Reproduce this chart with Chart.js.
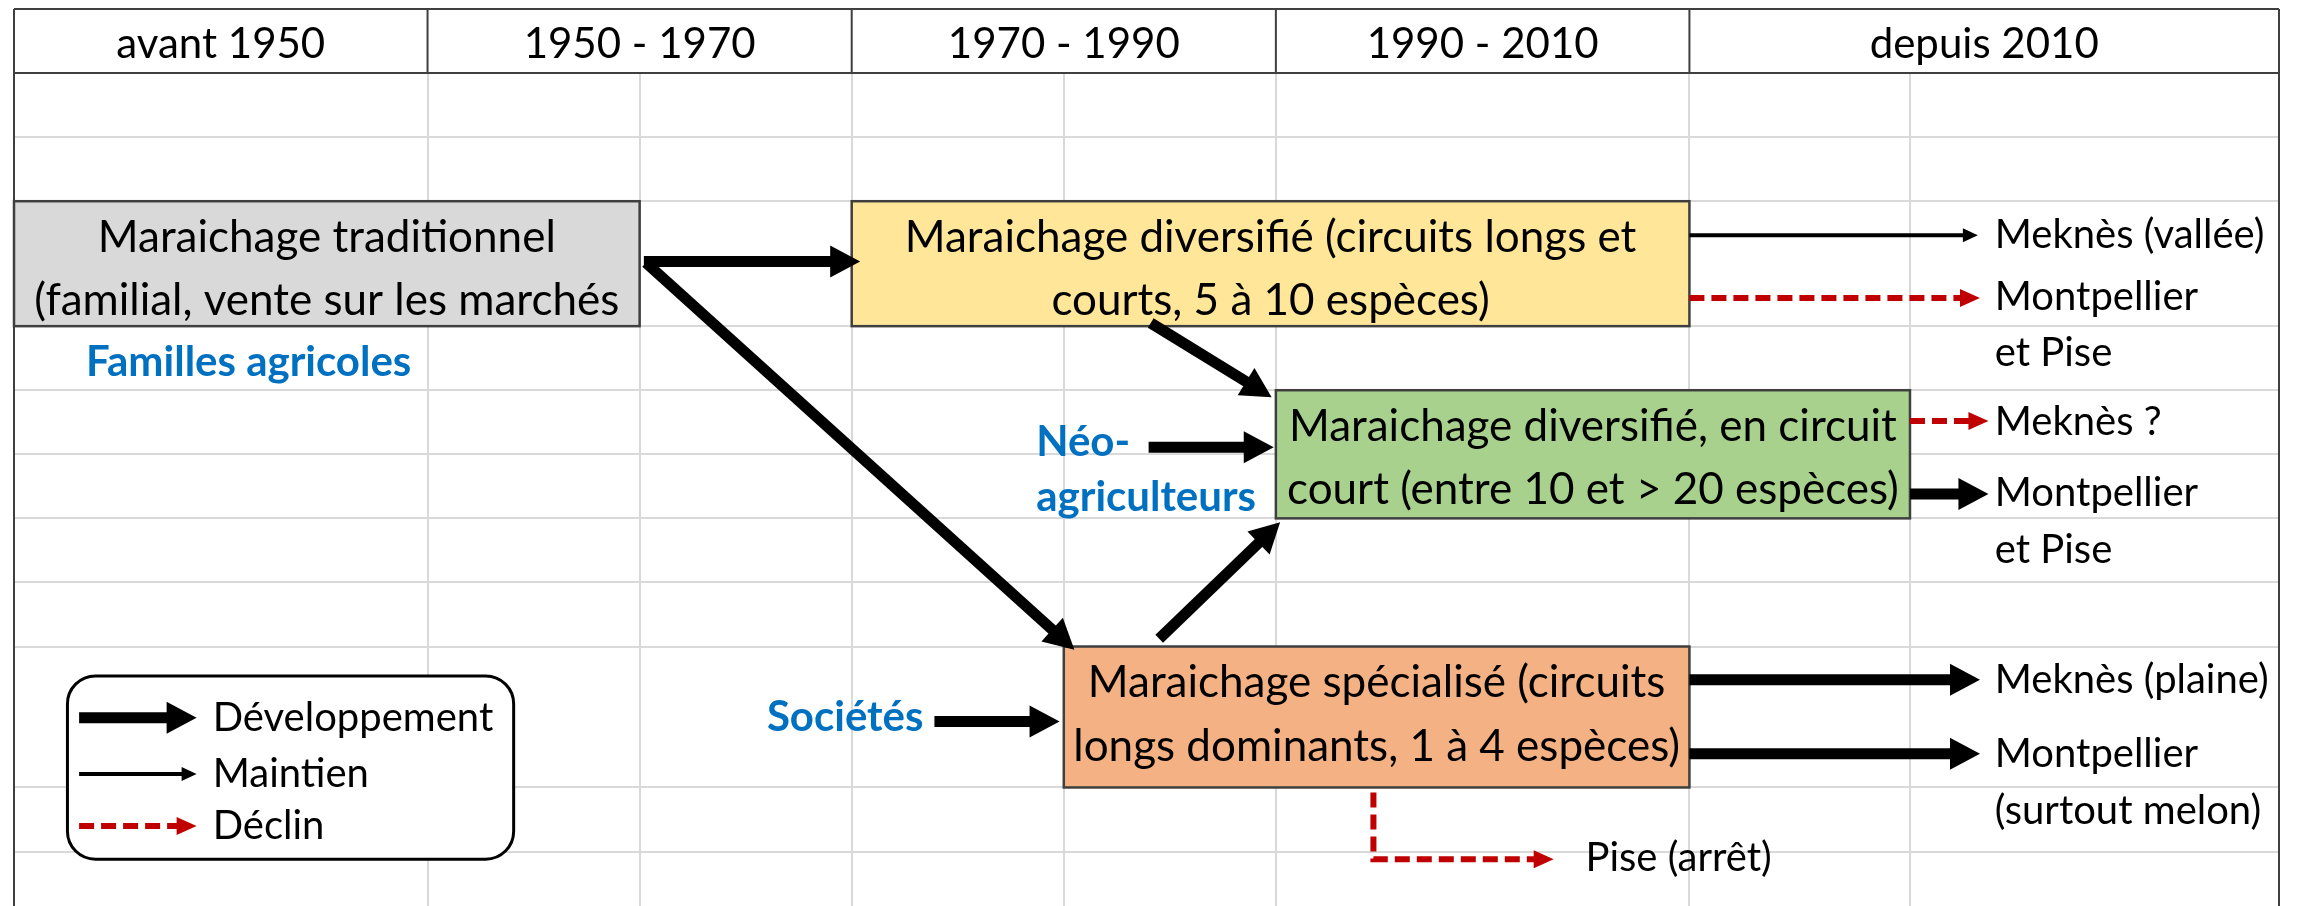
<!DOCTYPE html>
<html lang="fr">
<head>
<meta charset="utf-8">
<title>Trajectoires du maraichage</title>
<script src="https://cdn.jsdelivr.net/npm/chart.js@4.4.1/dist/chart.umd.min.js"></script>
<style>
  html, body { margin: 0; padding: 0; background: #fff; }
  #wrap { position: relative; width: 2303px; height: 906px; }
</style>
</head>
<body>
<div id="wrap"><canvas id="diagram"></canvas></div>
<script>
// header periods and the spreadsheet grid, in column / row units
const periods = ['avant 1950', '1950 - 1970', '1970 - 1990', '1990 - 2010', 'depuis 2010'];
const periodEdges = [0, 1.95, 3.95, 5.95, 7.9, 10.68];
const colEdges = [0, 1.95, 2.95, 3.95, 4.95, 5.95, 7.9, 8.94, 10.68];
const rowEdges = [0, 1, 2, 3, 4.95, 5.95, 6.95, 7.95, 8.95, 9.95, 12.15, 13.15];

// farming systems (boxes)
const systemText = [
    ['Maraichage traditionnel', '(familial, vente sur les marchés'],
    ['Maraichage diversifié (circuits longs et', 'courts, 5 à 10 espèces)'],
    ['Maraichage diversifié, en circuit', 'court (entre 10 et > 20 espèces)'],
    ['Maraichage spécialisé (circuits', 'longs dominants, 1 à 4 espèces)']
];
const systemFrom = [0, 3.95, 5.95, 4.95];
const systemTo = [2.95, 7.9, 8.94, 7.9];
const systemTop = [3, 3, 5.95, 9.95];
const systemBottom = [4.95, 4.95, 7.95, 12.15];
const systemColors = ['#d9d9d9', '#ffe699', '#a9d18e', '#f4b183'];

// flows: kind and path points [x, y]
const flowKind = ['dev', 'dev', 'dev', 'dev', 'dev', 'dev', 'main', 'decl', 'decl', 'dev', 'dev', 'dev', 'decl'];
const flowPath = [
    [[2.97, 3.94], [3.99, 3.94]],
    [[2.98, 3.96], [5.0, 10.0]],
    [[5.36, 4.9], [5.93, 6.06]],
    [[5.35, 6.84], [5.94, 6.84]],
    [[5.4, 9.83], [5.97, 8.01]],
    [[4.34, 11.12], [4.93, 11.12]],
    [[7.9, 3.53], [9.26, 3.53]],
    [[7.9, 4.51], [9.27, 4.51]],
    [[8.94, 6.43], [9.31, 6.43]],
    [[8.94, 7.57], [9.31, 7.57]],
    [[7.9, 10.47], [9.27, 10.47]],
    [[7.9, 11.625], [9.27, 11.625]],
    [[6.41, 12.23], [6.41, 13.27], [7.26, 13.27]]
];

// places reached
const placeText = ['Meknès (vallée)', 'Montpellier', 'et Pise', 'Meknès ?', 'Montpellier', 'et Pise',
    'Meknès (plaine)', 'Montpellier', '(surtout melon)', 'Pise (arrêt)'];
const placeX = [9.34, 9.34, 9.34, 9.34, 9.34, 9.34, 9.34, 9.34, 9.34, 7.41];
const placeY = [3.53, 4.5, 5.375, 6.44, 7.56, 8.45, 10.47, 11.625, 12.52, 13.25];

// actors
const actorText = ['Familles agricoles', 'Néo-', 'agriculteurs', 'Sociétés'];
const actorX = [0.34, 4.82, 4.82, 3.55];
const actorY = [5.51, 6.77, 7.63, 11.06];

// legend
const legendKind = ['dev', 'main', 'decl'];
const legendText = ['Développement', 'Maintien', 'Déclin'];
const legendY = [11.06, 11.94, 12.75];

const FONT = "Lato, 'Liberation Sans', sans-serif";
const arrowStyle = {
    dev: { color: '#000', width: 11, head: 30, half: 16, dash: [] },
    main: { color: '#000', width: 4, head: 15, half: 7, dash: [] },
    decl: { color: '#c00000', width: 6, head: 20, half: 9, dash: [15, 7] }
};

function drawArrow(ctx, pts, kind) {
    const st = arrowStyle[kind];
    const n = pts.length;
    const [tx, ty] = pts[n - 1];
    const [sx, sy] = pts[n - 2];
    const len = Math.hypot(tx - sx, ty - sy);
    const ux = (tx - sx) / len, uy = (ty - sy) / len;
    const bx = tx - ux * st.head, by = ty - uy * st.head;

    ctx.save();
    ctx.strokeStyle = st.color;
    ctx.fillStyle = st.color;
    ctx.lineWidth = st.width;
    ctx.lineCap = 'butt';
    ctx.lineJoin = 'miter';
    ctx.setLineDash(st.dash);
    ctx.beginPath();
    ctx.moveTo(pts[0][0], pts[0][1]);
    for (let i = 1; i < n - 1; i++) ctx.lineTo(pts[i][0], pts[i][1]);
    ctx.lineTo(bx + ux, by + uy);
    ctx.stroke();
    ctx.setLineDash([]);
    ctx.beginPath();
    ctx.moveTo(tx, ty);
    ctx.lineTo(bx - uy * st.half, by + ux * st.half);
    ctx.lineTo(bx + uy * st.half, by - ux * st.half);
    ctx.closePath();
    ctx.fill();
    ctx.restore();
}

const sheetPlugin = {
    id: 'sheet',
    beforeDatasetsDraw(chart) {
        const { ctx, scales: { x, y } } = chart;
        const px = v => x.getPixelForValue(v);
        const py = v => y.getPixelForValue(v);
        const right = periodEdges[periodEdges.length - 1];
        ctx.save();

        // header row
        ctx.fillStyle = '#fff';
        ctx.fillRect(px(0), py(0), px(right) - px(0), py(1) - py(0));
        ctx.strokeStyle = '#3f3f3f';
        ctx.lineWidth = 2;
        ctx.beginPath();
        ctx.moveTo(px(0), py(0)); ctx.lineTo(px(right), py(0));
        ctx.moveTo(px(0), py(1)); ctx.lineTo(px(right), py(1));
        periodEdges.forEach(e => {
            ctx.moveTo(px(e), py(0));
            ctx.lineTo(px(e), e === 0 || e === right ? py(14) : py(1));
        });
        ctx.stroke();
        ctx.fillStyle = '#000';
        ctx.font = '42px ' + FONT;
        ctx.textAlign = 'center';
        ctx.textBaseline = 'middle';
        periods.forEach((p, i) => {
            ctx.fillText(p, (px(periodEdges[i]) + px(periodEdges[i + 1])) / 2, py(0.55));
        });

        // boxes
        systemText.forEach((lines, i) => {
            const x0 = px(systemFrom[i]), x1 = px(systemTo[i]);
            const y0 = py(systemTop[i]), y1 = py(systemBottom[i]);
            ctx.fillStyle = systemColors[i];
            ctx.fillRect(x0, y0, x1 - x0, y1 - y0);
            ctx.strokeStyle = '#3f3f3f';
            ctx.lineWidth = 2.5;
            ctx.strokeRect(x0, y0, x1 - x0, y1 - y0);
            ctx.fillStyle = '#000';
            ctx.font = '44px ' + FONT;
            ctx.textAlign = 'center';
            lines.forEach((t, k) => {
                ctx.fillText(t, (x0 + x1) / 2, py(systemTop[i] + 0.57 + k * 0.99));
            });
        });

        // legend frame
        const lx0 = px(0.252), lx1 = px(2.356), ly0 = py(10.41), ly1 = py(13.27);
        ctx.beginPath();
        ctx.roundRect(lx0, ly0, lx1 - lx0, ly1 - ly0, 28);
        ctx.fillStyle = '#fff';
        ctx.fill();
        ctx.strokeStyle = '#000';
        ctx.lineWidth = 3;
        ctx.stroke();
        ctx.textAlign = 'left';
        ctx.font = '40px ' + FONT;
        legendKind.forEach((k, i) => {
            drawArrow(ctx, [[px(0.307), py(legendY[i])], [px(0.861), py(legendY[i])]], k);
            ctx.fillStyle = '#000';
            ctx.fillText(legendText[i], px(0.937), py(legendY[i]));
        });

        // flows
        flowPath.forEach((path, i) => {
            drawArrow(ctx, path.map(p => [px(p[0]), py(p[1])]), flowKind[i]);
        });

        // labels
        ctx.textAlign = 'left';
        ctx.fillStyle = '#000';
        ctx.font = '40px ' + FONT;
        placeText.forEach((t, i) => ctx.fillText(t, px(placeX[i]), py(placeY[i])));
        ctx.fillStyle = '#0070c0';
        ctx.font = 'bold 42px ' + FONT;
        actorText.forEach((t, i) => ctx.fillText(t, px(actorX[i]), py(actorY[i])));
        ctx.restore();
    }
};

new Chart(document.getElementById('diagram'), {
    type: 'scatter',
    data: { datasets: [] },
    options: {
        responsive: true,
        maintainAspectRatio: false,
        animation: false,
        events: [],
        layout: { padding: { left: 14, right: 24, top: 9, bottom: 0 } },
        plugins: { legend: { display: false }, tooltip: { enabled: false } },
        scales: {
            x: {
                type: 'linear', min: 0, max: 10.68,
                afterBuildTicks: s => { s.ticks = colEdges.map(v => ({ value: v })); },
                ticks: { display: false },
                border: { display: false },
                grid: { color: '#d9d9d9', lineWidth: 2, drawTicks: false }
            },
            y: {
                type: 'linear', min: 0, max: 14, reverse: true,
                afterBuildTicks: s => { s.ticks = rowEdges.map(v => ({ value: v })); },
                ticks: { display: false },
                border: { display: false },
                grid: { color: '#d9d9d9', lineWidth: 2, drawTicks: false }
            }
        }
    },
    plugins: [sheetPlugin]
});
</script>
</body>
</html>
